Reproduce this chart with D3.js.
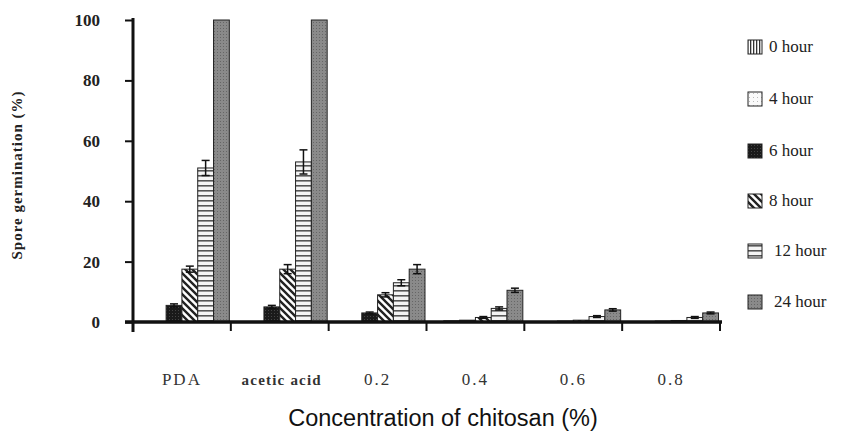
<!DOCTYPE html>
<html><head><meta charset="utf-8">
<script src="https://cdn.jsdelivr.net/npm/d3@7/dist/d3.min.js"></script>
<style>body{margin:0;background:#fff}svg{display:block}</style>
</head><body><svg id="c" width="842" height="432"></svg>
<script>
const categories = ["PDA", "acetic acid", "0.2", "0.4", "0.6", "0.8"];
const series = ["0 hour", "4 hour", "6 hour", "8 hour", "12 hour", "24 hour"];
// values[series][category]
const h0  = [0, 0, 0, 0, 0, 0];
const h4  = [0, 0, 0, 0.4, 0, 0];
const h6  = [5.5, 5, 3, 0.6, 0.3, 0.3];
const h8  = [17.5, 17.5, 9, 1.5, 0.6, 0.5];
const h12 = [51, 53, 13, 4.5, 1.8, 1.5];
const h24 = [100, 100, 17.5, 10.5, 4, 3];
const e6  = [0.5, 0.5, 0.3, 0, 0, 0];
const e8  = [1, 1.5, 0.7, 0.3, 0, 0];
const e12 = [2.5, 4, 1, 0.5, 0.3, 0.3];
const e24 = [0, 0, 1.5, 0.7, 0.4, 0.3];
const yTicks = [0, 20, 40, 60, 80, 100];

const values = [h0, h4, h6, h8, h12, h24];
const errors = [h0.map(() => 0), h4.map(() => 0), e6, e8, e12, e24];
const SERIF = "'Liberation Serif', 'Times New Roman', Times, serif";
const SANS = "'Liberation Sans', Arial, Helvetica, sans-serif";

const svg = d3.select("#c");
const defs = svg.append("defs");
function pat(id, w, h, bg, draw) {
  const p = defs.append("pattern").attr("id", id).attr("patternUnits", "userSpaceOnUse")
    .attr("width", w).attr("height", h);
  p.append("rect").attr("width", w).attr("height", h).attr("fill", bg);
  draw(p);
}
pat("p0", 3, 3, "#fff", p => p.append("rect").attr("x", 0).attr("width", 1.3).attr("height", 3).attr("fill", "#333"));
pat("p4", 4, 4, "#fafafa", p => p.append("rect").attr("x", 1).attr("y", 1).attr("width", 1).attr("height", 1).attr("fill", "#bbb"));
pat("p6", 3, 3, "#1a1a1a", p => p.append("rect").attr("x", 1).attr("y", 1).attr("width", 1).attr("height", 1).attr("fill", "#444"));
pat("p8", 7, 7, "#fff", p => {
  p.append("path").attr("d", "M-2,-2 L9,9 M-2,5 L2,9 M5,-2 L9,2").attr("stroke", "#222").attr("stroke-width", 2.4);
});
pat("p12", 4, 5, "#f4f4f4", p => p.append("rect").attr("y", 0).attr("width", 4).attr("height", 1.6).attr("fill", "#555"));
pat("p24", 3, 3, "#8a8a8a", p => p.append("rect").attr("x", 1).attr("y", 1).attr("width", 1).attr("height", 1).attr("fill", "#666"));
const fills = ["url(#p0)", "url(#p4)", "url(#p6)", "url(#p8)", "url(#p12)", "url(#p24)"];

const x0 = 133, x1 = 720, yb = 322, yt = 20;
const x = d3.scaleBand().domain(categories).range([x0, x1]).paddingInner(0).paddingOuter(0);
const xs = d3.scaleBand().domain(series).range([0, x.bandwidth()]).paddingOuter(0.095).paddingInner(0);
const y = d3.scaleLinear().domain([0, 100]).range([yb, yt]);

const g = svg.append("g");
series.forEach((s, si) => {
  categories.forEach((c, ci) => {
    const v = values[si][ci];
    if (v <= 0) return;
    const bx = x(c) + xs(s);
    g.append("rect").attr("x", bx).attr("y", y(v)).attr("width", xs.bandwidth())
      .attr("height", yb - y(v)).attr("fill", fills[si]).attr("stroke", "#222").attr("stroke-width", 1);
    const e = errors[si][ci];
    if (e > 0) {
      const cx = bx + xs.bandwidth() / 2;
      g.append("line").attr("x1", cx).attr("x2", cx).attr("y1", y(v - e)).attr("y2", y(v + e)).attr("stroke", "#111").attr("stroke-width", 1.5);
      [v - e, v + e].forEach(t => g.append("line").attr("x1", cx - 4).attr("x2", cx + 4).attr("y1", y(t)).attr("y2", y(t)).attr("stroke", "#111").attr("stroke-width", 1.5));
    }
  });
});

// axes
const ya = svg.append("g").attr("transform", `translate(${x0},0)`)
  .call(d3.axisLeft(y).tickValues(yTicks).tickSize(8).tickPadding(25));
ya.select(".domain").attr("stroke", "#111").attr("stroke-width", 3).attr("d", `M0,${yt - 2}V${yb + 10}`);
ya.selectAll(".tick line").attr("stroke", "#111").attr("stroke-width", 2);
ya.selectAll("text").attr("font-family", SERIF).attr("font-weight", "bold").attr("font-size", 17).attr("fill", "#222");

const xa = svg.append("g").attr("transform", `translate(0,${yb})`);
xa.append("line").attr("x1", x0 - 8).attr("x2", x1 + 2).attr("y1", 0).attr("y2", 0).attr("stroke", "#111").attr("stroke-width", 3.5);
const bounds = categories.map(c => x(c)).concat([x1]);
xa.selectAll("line.t").data(bounds.slice(1)).join("line").attr("class", "t")
  .attr("x1", d => d).attr("x2", d => d).attr("y1", 0).attr("y2", 9).attr("stroke", "#111").attr("stroke-width", 2);
xa.selectAll("text").data(categories).join("text")
  .attr("x", d => x(d) + x.bandwidth() / 2 + (d === "acetic acid" ? 2 : 0)).attr("y", 63)
  .attr("text-anchor", "middle").attr("font-family", SERIF)
  .attr("font-size", d => d === "acetic acid" ? 15 : 17).attr("font-weight", d => d === "acetic acid" ? "bold" : "normal")
  .attr("letter-spacing", d => d === "acetic acid" ? 1.2 : 2)
  .attr("fill", "#333").text(d => d);

svg.append("text").attr("x", 443).attr("y", 426).attr("text-anchor", "middle")
  .attr("font-family", SANS).attr("font-size", 23.5).attr("fill", "#111").text("Concentration of chitosan (%)");
svg.append("text").attr("transform", "translate(22,175) rotate(-90)").attr("text-anchor", "middle")
  .attr("font-family", SERIF).attr("font-weight", "bold").attr("font-size", 15).attr("letter-spacing", 1).attr("fill", "#222")
  .text("Spore germination (%)");

// legend
const leg = svg.append("g");
const ly = [47, 99, 151, 201, 251, 302];
series.forEach((s, i) => {
  leg.append("rect").attr("x", 748).attr("y", ly[i] - 7).attr("width", 14).attr("height", 14)
    .attr("fill", fills[i]).attr("stroke", "#222").attr("stroke-width", 1);
  leg.append("text").attr("x", s.length > 6 ? 774 : 769).attr("y", ly[i] + 5)
    .attr("font-family", SERIF).attr("font-size", 17).attr("fill", "#222").text(s);
});
</script></body></html>
